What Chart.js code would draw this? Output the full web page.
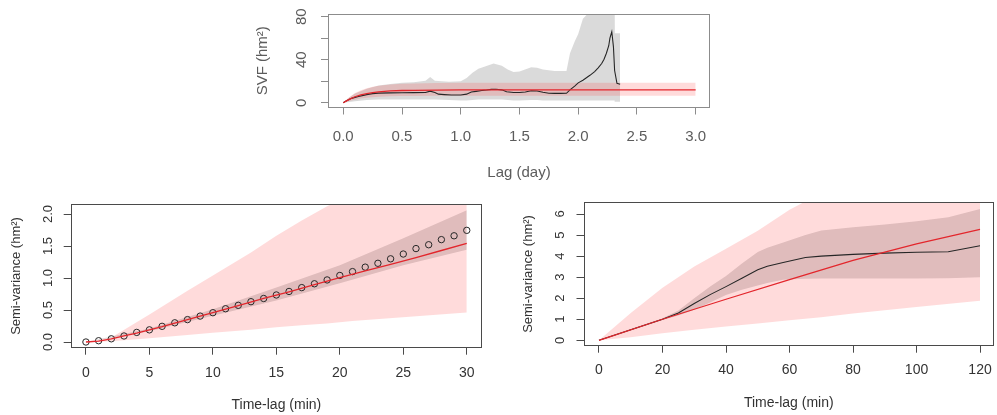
<!DOCTYPE html>
<html>
<head>
<meta charset="utf-8">
<script src="https://cdn.jsdelivr.net/npm/chart.js@4.4.1/dist/chart.umd.min.js"></script>
<style>
  html, body { margin: 0; padding: 0; background: #fff; }
  body { width: 997px; height: 415px; position: relative; overflow: hidden; }
  canvas { position: absolute; }
</style>
</head>
<body>
<canvas id="svf" width="480" height="190" style="left:240px;top:0px"></canvas>
<canvas id="short" width="490" height="225" style="left:0px;top:190px"></canvas>
<canvas id="long" width="500" height="225" style="left:497px;top:190px"></canvas>
<script>
// ---------- Panel 1: semi-variance function over lag in days ----------
const svfLag = [0, 0.02, 0.05, 0.07, 0.1, 0.13, 0.17, 0.21, 0.25, 0.3, 0.4, 0.5, 0.6, 0.7, 0.74, 0.78, 0.81, 0.86, 0.92, 1.0, 1.05, 1.09, 1.13, 1.18, 1.22, 1.26, 1.3, 1.35, 1.39, 1.45, 1.5, 1.55, 1.6, 1.65, 1.7, 1.75, 1.8, 1.85, 1.9, 1.93, 1.97, 2.0, 2.04, 2.07, 2.1, 2.14, 2.17, 2.2, 2.22, 2.24, 2.26, 2.27, 2.286, 2.30, 2.31, 2.33, 2.357];
const svfEmp = [0, 1.5, 3.0, 4.1, 5.0, 5.8, 6.9, 7.8, 8.5, 9.0, 9.2, 9.3, 9.4, 9.6, 10.8, 9.5, 8.0, 7.6, 7.2, 7.2, 8.0, 10.0, 10.6, 11.4, 11.8, 12.4, 12.5, 12.0, 10.2, 9.6, 9.6, 10.0, 11.2, 11.0, 9.8, 8.8, 8.7, 8.7, 8.8, 12.0, 15.5, 18.5, 21.0, 23.3, 25.5, 29.0, 32.5, 36.5, 40.5, 46.0, 53.0, 60.0, 66.0, 52.0, 30.0, 18.0, 17.2];

const svfCiLag = [0, 0.05, 0.1, 0.2, 0.3, 0.4, 0.5, 0.6, 0.7, 0.74, 0.78, 0.9, 1.0, 1.05, 1.1, 1.15, 1.2, 1.28, 1.35, 1.4, 1.45, 1.5, 1.6, 1.65, 1.7, 1.8, 1.9, 1.93, 1.97, 2.0, 2.04, 2.31, 2.312, 2.357];
const svfCiLow = [0, 0.8, 1.5, 2.5, 3, 3, 3, 3, 3, 3, 3, 2.5, 2, 2, 2.5, 3, 3, 3, 3, 2.5, 2, 2, 2.5, 2.5, 2, 2, 2, 2, 2, 2, 2, 2, 1, 1];
const svfCiHigh = [0, 5, 8.5, 13, 16, 17.5, 18.5, 19, 20.5, 24, 20.5, 19.5, 20, 23, 28, 31.5, 33.5, 36.5, 34.5, 31, 28.5, 29, 33, 32.5, 31, 29.5, 29.5, 46, 57, 64, 78, 110, 64.5, 64.5];

const svfFitLag = [0, 0.02, 0.05, 0.1, 0.15, 0.2, 0.25, 0.3, 0.4, 0.5, 0.6, 0.8, 1.0, 1.5, 2.0, 2.5, 3.0];
const svfFit = [0, 1.3, 3.2, 5.6, 7.3, 8.6, 9.5, 10.2, 11.0, 11.4, 11.6, 11.8, 11.9, 12.0, 12.0, 12.0, 12.0];
const svfFitLow = [0, 0.6, 1.6, 2.9, 3.9, 4.7, 5.2, 5.6, 6.1, 6.3, 6.4, 6.5, 6.5, 6.5, 6.5, 6.5, 6.5];
const svfFitHigh = [0, 2.2, 5.2, 9.0, 11.6, 13.5, 14.9, 15.9, 17.0, 17.6, 18.0, 18.3, 18.5, 18.6, 18.6, 18.6, 18.6];

const svfXTicks = [0, 0.5, 1, 1.5, 2, 2.5, 3];
const svfXLabels = ['0.0', '0.5', '1.0', '1.5', '2.0', '2.5', '3.0'];
const svfYTicks = [0, 20, 40, 60, 80];
const svfYLabels = ['0', '', '40', '', '80'];

// ---------- Panel 2: first 30 minutes ----------
const shortLag = [0, 1, 2, 3, 4, 5, 6, 7, 8, 9, 10, 11, 12, 13, 14, 15, 16, 17, 18, 19, 20, 21, 22, 23, 24, 25, 26, 27, 28, 29, 30];
const shortEmp = [0, 0.02, 0.05, 0.094, 0.15, 0.19, 0.245, 0.30, 0.35, 0.405, 0.458, 0.52, 0.573, 0.63, 0.68, 0.735, 0.79, 0.85, 0.91, 0.97, 1.04, 1.10, 1.17, 1.23, 1.30, 1.375, 1.46, 1.52, 1.60, 1.66, 1.745];

const shortCiLag = [0, 5, 10, 15, 20, 25, 30];
const shortCiLow = [0, 0.17, 0.41, 0.65, 0.92, 1.2, 1.44];
const shortCiHigh = [0, 0.21, 0.51, 0.85, 1.2, 1.62, 2.06];

const shortFitLag = [0, 1, 2, 3, 4, 5, 6, 8, 10, 12, 14, 16, 18, 20, 22, 24, 26, 28, 30];
const shortFit = [0, 0.015, 0.05, 0.095, 0.14, 0.19, 0.24, 0.35, 0.46, 0.57, 0.68, 0.785, 0.895, 1.005, 1.11, 1.215, 1.32, 1.43, 1.54];

const shortBandLag = [0, 2, 5, 8, 10, 13, 15, 17, 19, 21, 30];
const shortBandLow = [0, 0.01, 0.06, 0.11, 0.145, 0.19, 0.23, 0.26, 0.29, 0.33, 0.46];
const shortBandHigh = [0, 0.07, 0.43, 0.8, 1.04, 1.40, 1.66, 1.9, 2.12, 2.32, 3.1];

const shortXTicks = [0, 5, 10, 15, 20, 25, 30];
const shortXLabels = ['0', '5', '10', '15', '20', '25', '30'];
const shortYTicks = [0, 0.5, 1, 1.5, 2];
const shortYLabels = ['0.0', '0.5', '1.0', '1.5', '2.0'];

// ---------- Panel 3: first 120 minutes ----------
const longLag = [0, 10, 20, 25, 30, 35, 40, 45, 50, 53, 58, 65, 70, 80, 90, 100, 110, 120];
const longEmp = [0, 0.5, 1.0, 1.3, 1.75, 2.17, 2.55, 2.95, 3.35, 3.52, 3.7, 3.93, 4.0, 4.08, 4.14, 4.18, 4.21, 4.49];
const longCiLow = [0, 0.48, 0.96, 1.18, 1.45, 1.8, 2.15, 2.4, 2.6, 2.72, 2.88, 2.92, 2.93, 2.93, 2.93, 2.93, 2.95, 2.99];
const longCiHigh = [0, 0.52, 1.05, 1.42, 2.0, 2.55, 3.05, 3.65, 4.2, 4.4, 4.65, 5.0, 5.22, 5.37, 5.5, 5.65, 5.85, 6.24];

const longFitLag = [0, 20, 40, 60, 80, 100, 120];
const longFit = [0, 1.0, 1.95, 2.88, 3.8, 4.58, 5.27];

const longBandLag = [0, 10, 20, 30, 40, 50, 60, 70, 80, 100, 120];
const longBandLow = [0, 0.15, 0.33, 0.5, 0.65, 0.8, 0.95, 1.1, 1.27, 1.58, 1.88];
const longBandHigh = [0, 1.3, 2.5, 3.5, 4.35, 5.2, 6.2, 7.0, 7.6, 8.8, 9.9];

const longXTicks = [0, 20, 40, 60, 80, 100, 120];
const longXLabels = ['0', '20', '40', '60', '80', '100', '120'];
const longYTicks = [0, 1, 2, 3, 4, 5, 6];
const longYLabels = ['0', '1', '2', '3', '4', '5', '6'];

// ---------- shared styling ----------
const FONT = "'Liberation Sans', Arial, Helvetica, sans-serif";
const RED = '#e3262c';
const BLACK = '#262626';
const PINK = 'rgba(255, 0, 0, 0.14)';
const GREY = 'rgba(0, 0, 0, 0.145)';

const pts = (xs, ys) => xs.map((x, i) => ({ x: x, y: ys[i] }));

// Draws the closed frame around the plotting region
const frameBox = {
  id: 'frameBox',
  afterDraw(chart, args, opts) {
    const { ctx, chartArea: a } = chart;
    const l = Math.round(a.left) + 0.5, t = Math.round(a.top) + 0.5;
    const r = Math.round(a.right) - 0.5, b = Math.round(a.bottom) - 0.5;
    ctx.save();
    ctx.strokeStyle = opts.color;
    ctx.lineWidth = 1;
    ctx.strokeRect(l, t, r - l, b - t);
    ctx.restore();
  }
};

function fixedSize(size, horizontal) {
  return function (scale) {
    if (horizontal) scale.height = size; else scale.width = size;
    scale.paddingTop = 0; scale.paddingBottom = 0;
    scale.paddingLeft = 0; scale.paddingRight = 0;
  };
}

function band(xs, lo, hi, color, order) {
  return [
    { data: pts(xs, lo), borderWidth: 0, fill: false, order: order },
    { data: pts(xs, hi), borderWidth: 0, fill: '-1', backgroundColor: color, order: order }
  ];
}

function panel(id, o) {
  return new Chart(document.getElementById(id), {
    type: 'line',
    data: { datasets: o.datasets },
    plugins: [frameBox],
    options: {
      responsive: false,
      animation: false,
      devicePixelRatio: 1,
      layout: { padding: { top: o.top, right: o.right, left: 0, bottom: 0 } },
      elements: { point: { radius: 0 }, line: { tension: 0 } },
      plugins: {
        legend: { display: false },
        tooltip: { enabled: false },
        filler: { drawTime: 'beforeDatasetsDraw' },
        frameBox: { color: o.frame }
      },
      scales: {
        x: {
          type: 'linear', position: 'bottom', min: o.x.min, max: o.x.max,
          afterFit: fixedSize(o.x.size, true),
          afterBuildTicks: s => { s.ticks = o.x.ticks.map(v => ({ value: v })); },
          border: { display: false },
          grid: { drawOnChartArea: false, drawTicks: true, tickLength: 7, color: o.frame, lineWidth: 1 },
          ticks: {
            autoSkip: false, maxRotation: 0, minRotation: 0, padding: o.x.pad,
            color: o.text, font: { family: FONT, size: o.x.font },
            callback: (v, i) => o.x.labels[i]
          },
          title: {
            display: true, text: o.x.title, color: o.text,
            font: { family: FONT, size: o.x.font },
            padding: { top: 0, bottom: o.x.titlePad }
          }
        },
        y: {
          type: 'linear', position: 'left', min: o.y.min, max: o.y.max,
          afterFit: fixedSize(o.y.size, false),
          afterBuildTicks: s => { s.ticks = o.y.ticks.map(v => ({ value: v })); },
          border: { display: false },
          grid: { drawOnChartArea: false, drawTicks: true, tickLength: 7, color: o.frame, lineWidth: 1 },
          ticks: {
            autoSkip: false, minRotation: 90, maxRotation: 90, crossAlign: 'center', padding: o.y.pad,
            color: o.text, font: { family: FONT, size: o.y.font },
            callback: (v, i) => o.y.labels[i]
          },
          title: {
            display: true, text: o.y.title, color: o.text,
            font: { family: FONT, size: o.y.font },
            padding: { top: o.y.titlePad, bottom: 0 }
          }
        }
      }
    }
  });
}

// Lag in days
panel('svf', {
  top: 14, right: 10, frame: '#8c8c8c', text: '#5c5c5c',
  x: { min: -0.13, max: 3.122, size: 82.5, ticks: svfXTicks, labels: svfXLabels, pad: 13, font: 15, title: 'Lag (day)', titlePad: 8 },
  y: { min: -4.4, max: 82.5, size: 88, ticks: svfYTicks, labels: svfYLabels, pad: 11, font: 15, title: 'SVF (hm²)', titlePad: 14 },
  datasets: [
    { data: pts(svfFitLag, svfFit), borderColor: RED, borderWidth: 1.3, order: 0 },
    { data: pts(svfLag, svfEmp), borderColor: BLACK, borderWidth: 1.1, order: 1 },
    ...band(svfFitLag, svfFitLow, svfFitHigh, PINK, 2),
    ...band(svfCiLag, svfCiLow, svfCiHigh, GREY, 3)
  ]
});

// Short time-lags in minutes
panel('short', {
  top: 14.3, right: 8, frame: '#4a4a4a', text: '#333333',
  x: { min: -1.2, max: 31.2, size: 67.3, ticks: shortXTicks, labels: shortXLabels, pad: 9.6, font: 14, title: 'Time-lag (min)', titlePad: 1.6 },
  y: { min: -0.089, max: 2.152, size: 70.7, ticks: shortYTicks, labels: shortYLabels, pad: 6.4, font: 13, title: 'Semi-variance (hm²)', titlePad: 8.9 },
  datasets: [
    { data: pts(shortFitLag, shortFit), borderColor: RED, borderWidth: 1.3, order: 0 },
    { data: pts(shortLag, shortEmp), showLine: false, pointRadius: 3.2, pointBorderColor: BLACK,
      pointBackgroundColor: 'rgba(0,0,0,0)', pointBorderWidth: 1, order: 1 },
    ...band(shortBandLag, shortBandLow, shortBandHigh, PINK, 2),
    ...band(shortCiLag, shortCiLow, shortCiHigh, GREY, 3)
  ]
});

// Time-lags up to two hours
panel('long', {
  top: 12.3, right: 3, frame: '#4a4a4a', text: '#333333',
  x: { min: -4.88, max: 124.4, size: 69.3, ticks: longXTicks, labels: longXLabels, pad: 8.9, font: 14, title: 'Time-lag (min)', titlePad: 3.6 },
  y: { min: -0.257, max: 6.556, size: 86.5, ticks: longYTicks, labels: longYLabels, pad: 12.9, font: 13, title: 'Semi-variance (hm²)', titlePad: 23.5 },
  datasets: [
    { data: pts(longFitLag, longFit), borderColor: RED, borderWidth: 1.3, order: 0 },
    { data: pts(longLag, longEmp), borderColor: BLACK, borderWidth: 1.1, order: 1 },
    ...band(longBandLag, longBandLow, longBandHigh, PINK, 2),
    ...band(longLag, longCiLow, longCiHigh, GREY, 3)
  ]
});
</script>
</body>
</html>
